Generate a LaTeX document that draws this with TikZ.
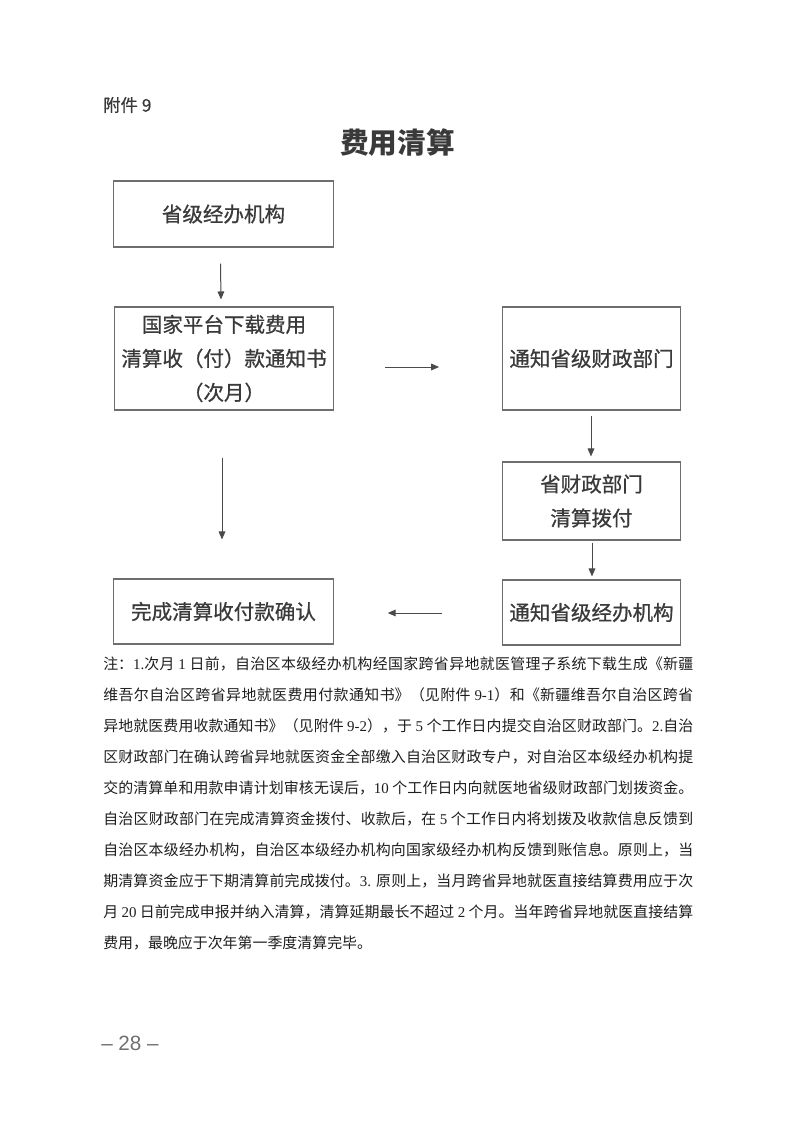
\documentclass[tikz,border=0pt]{standalone}
\usepackage{fontspec}
\setmainfont{Liberation Serif}
\newfontfamily\cjk{Noto Sans CJK SC}
\newfontfamily\cjkm{Noto Sans CJK SC}[FakeBold=0.8]
\newfontfamily\numfont{Liberation Sans}
\XeTeXlinebreaklocale "zh"
\XeTeXlinebreakskip=0pt plus 1pt
\newcommand{\nm}[1]{{\rmfamily #1}}
\definecolor{boxline}{HTML}{6E6E6E}
\definecolor{boxtext}{HTML}{3A3A3A}
\definecolor{arrowline}{HTML}{4A4A4A}
\definecolor{notetext}{HTML}{1E1E1E}
\definecolor{pagegray}{HTML}{707070}
\usetikzlibrary{arrows.meta}
\usetikzlibrary{calc}

\begin{document}
\begin{tikzpicture}[x=0.75pt,y=-0.75pt,
	box/.style={draw=boxline, line width=0.8pt, text=boxtext, align=center, inner sep=0pt,
		font=\cjkm\fontsize{15.4}{25.5}\selectfont},
	leftbox/.style={box, minimum width=164.5pt},
	rightbox/.style={box, minimum width=134pt},
	arr/.style={-{Triangle[length=6pt,width=5pt]}, draw=arrowline, line width=0.75pt}]
	\useasboundingbox (0,0) rectangle (793,1121);
	\node[anchor=west, inner sep=0pt, text=boxtext, font=\cjkm\fontsize{13}{16}\selectfont] (annex) at (103,105) {附件 9};
	\node[inner sep=0pt, text=boxtext, font=\cjk\bfseries\fontsize{21.5}{26}\selectfont] (title) at (397.5,143) {费用清算};
	\node[leftbox, minimum height=49.5pt] (prov) at (223.5,214) {省级经办机构};%1
	\node[leftbox, minimum height=77.25pt] (download) at (224,358.5) {国家平台下载费用\\清算收（付）款通知书\\（次月）};%2
	\node[rightbox, minimum height=77.25pt] (notifyfin) at (591.5,358.5) {通知省级财政部门};%3
	\node[rightbox, minimum height=58.5pt] (finance) at (591.5,501) {省财政部门\\清算拨付};%4
	\node[rightbox, minimum height=48.75pt] (notifyagency) at (591.5,612.5) {通知省级经办机构};%5
	\node[leftbox, minimum height=48.75pt] (confirm) at (223.5,611.5) {完成清算收付款确认};%6
	\draw[arr] ($(prov.south)+(-3,16)$) -- ($(download.north)+(-3,-7)$);
	\draw[arr] ($(download.east)+(51,8.5)$) -- ($(notifyfin.west)+(-62.5,8.5)$);
	\draw[arr] ($(notifyfin.south)+(-0.5,5)$) -- ($(finance.north)+(-0.5,-5)$);
	\draw[arr] ($(finance.south)+(0.5,2)$) -- ($(notifyagency.north)+(0.5,-3)$);
	\draw[arr] ($(notifyagency.west)+(-60,0.5)$) -- ($(confirm.east)+(54,1.5)$);
	\draw[arr] ($(download.south)+(-2,47)$) -- ($(confirm.north)+(-1.5,-39)$);
	\node[anchor=north west, inner sep=0pt, text width=442.5pt, align=justify, text=notetext,
		font=\cjk\fontsize{11.2}{23.2}\selectfont] (notes) at (103,657) {%
注：\nm{1.}次月 \nm{1} 日前，自治区本级经办机构经国家跨省异地就医管理子系统下载生成《新疆\linebreak
维吾尔自治区跨省异地就医费用付款通知书》（见附件 \nm{9-1}）和《新疆维吾尔自治区跨省\linebreak
异地就医费用收款通知书》（见附件 \nm{9-2}），于 \nm{5} 个工作日内提交自治区财政部门。\nm{2.}自治\linebreak
区财政部门在确认跨省异地就医资金全部缴入自治区财政专户，对自治区本级经办机构提\linebreak
交的清算单和用款申请计划审核无误后，\nm{10} 个工作日内向就医地省级财政部门划拨资金。\linebreak
自治区财政部门在完成清算资金拨付、收款后，在 \nm{5} 个工作日内将划拨及收款信息反馈到\linebreak
自治区本级经办机构，自治区本级经办机构向国家级经办机构反馈到账信息。原则上，当\linebreak
期清算资金应于下期清算前完成拨付。\nm{3.} 原则上，当月跨省异地就医直接结算费用应于次\linebreak
月 \nm{20} 日前完成申报并纳入清算，清算延期最长不超过 \nm{2} 个月。当年跨省异地就医直接结算\linebreak
费用，最晚应于次年第一季度清算完毕。};
	\node[anchor=west, inner sep=0pt, text=pagegray, font=\numfont\fontsize{15.5}{18}\selectfont] (pagenum) at (101,1043) {– 28 –};
\end{tikzpicture}
\end{document}
